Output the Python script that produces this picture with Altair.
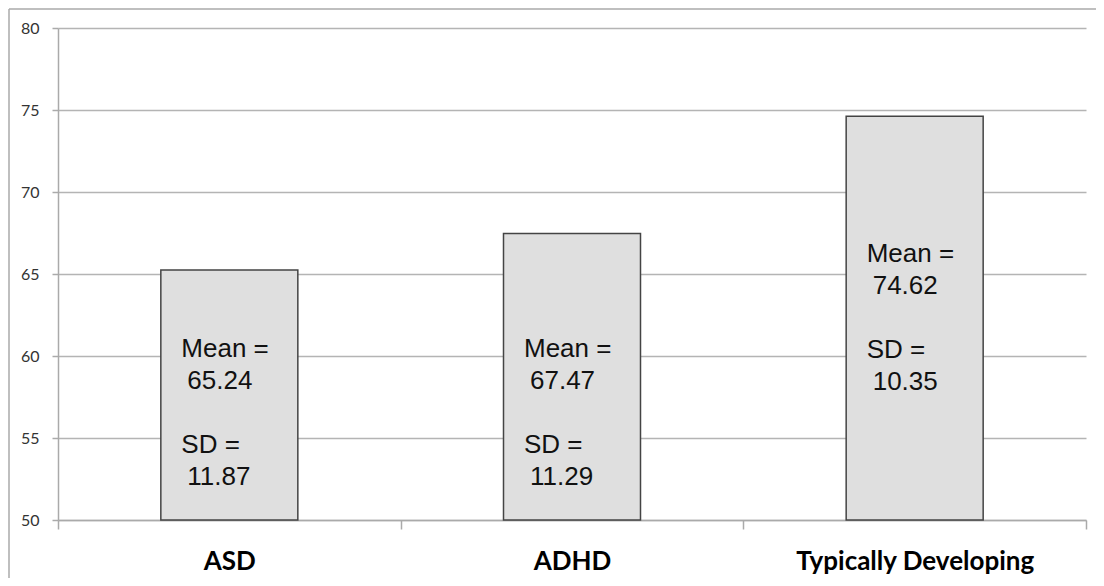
import altair as alt
import pandas as pd

groups = ["ASD", "ADHD", "Typically Developing"]
means = [65.24, 67.47, 74.62]
sds = [11.87, 11.29, 10.35]
label_y = [61.2, 61.2, 67.0]
y_ticks = [50, 55, 60, 65, 70, 75, 80]

df = pd.DataFrame({"group": groups, "mean": means, "sd": sds, "label_y": label_y})

rows = []
for g, m, s, ly in zip(groups, means, sds, label_y):
    rows.append({"group": g, "line": 0, "txt": "Mean =", "label_y": ly})
    rows.append({"group": g, "line": 1, "txt": f"{m:.2f}", "label_y": ly})
    rows.append({"group": g, "line": 2, "txt": "SD =", "label_y": ly})
    rows.append({"group": g, "line": 3, "txt": f"{s:.2f}", "label_y": ly})
lines_df = pd.DataFrame(rows)

W, H = 1028, 492
PAD_L, PAD_T, PAD_R, PAD_B = 50, 20, 10, 58

x_enc = alt.X("group:N", sort=groups, title=None,
              scale=alt.Scale(paddingInner=0, paddingOuter=0),
              axis=alt.Axis(labelAngle=0, labelFont="Lato", labelFontSize=26,
                            labelFontWeight="bold", labelColor="#000", labelLimit=0,
                            tickBand="extent", tickSize=9, tickColor="#aaaaaa",
                            tickWidth=1.5, domainColor="#aaaaaa", domainWidth=1.5,
                            labelPadding=19, grid=False))

y_scale = alt.Scale(domain=[50, 80], nice=False, zero=False)

bars = alt.Chart(df).mark_bar(size=137, color="#dfdfdf", stroke="#444444",
                              strokeWidth=1.5).encode(
    x=x_enc,
    y=alt.Y("mean:Q", scale=y_scale, title=None,
            axis=alt.Axis(values=y_ticks, labelFont="Lato", labelFontSize=16,
                          labelColor="#333", tickSize=6, tickColor="#aaaaaa",
                          tickWidth=1.5, domainColor="#aaaaaa", domainWidth=1.5,
                          labelPadding=13, gridColor="#b4b4b4", gridWidth=1.3)),
    y2=alt.datum(50),
)

line_dy = [0, 32, 96, 128]
line_dx = [-48, -42, -48, -42]
text_layers = []
for i in range(4):
    t = alt.Chart(lines_df).transform_filter(alt.datum.line == i).mark_text(
        align="left", baseline="top", dx=line_dx[i], dy=line_dy[i], fontSize=26,
        font="Liberation Sans", color="#111").encode(
        x=alt.X("group:N", sort=groups),
        y=alt.Y("label_y:Q", scale=y_scale),
        text="txt:N",
    )
    text_layers.append(t)

border_left = alt.Chart(df.head(1)).mark_rule(color="#aaaaaa", strokeWidth=1.5).encode(
    x=alt.value(-PAD_L + 1), y=alt.value(-PAD_T + 1), y2=alt.value(H + PAD_B))
border_top = alt.Chart(df.head(1)).mark_rule(color="#aaaaaa", strokeWidth=1.5).encode(
    x=alt.value(-PAD_L + 1), x2=alt.value(W + PAD_R), y=alt.value(-PAD_T + 1))

chart = alt.layer(bars, *text_layers, border_left, border_top).properties(
    width=W, height=H,
    autosize=alt.AutoSizeParams(type="none"),
    padding={"left": PAD_L, "top": PAD_T, "right": PAD_R, "bottom": PAD_B},
).configure_view(stroke=None).configure_axis(gridCap="butt")

chart.save("out.html", embed_options={"renderer": "svg", "actions": False})
